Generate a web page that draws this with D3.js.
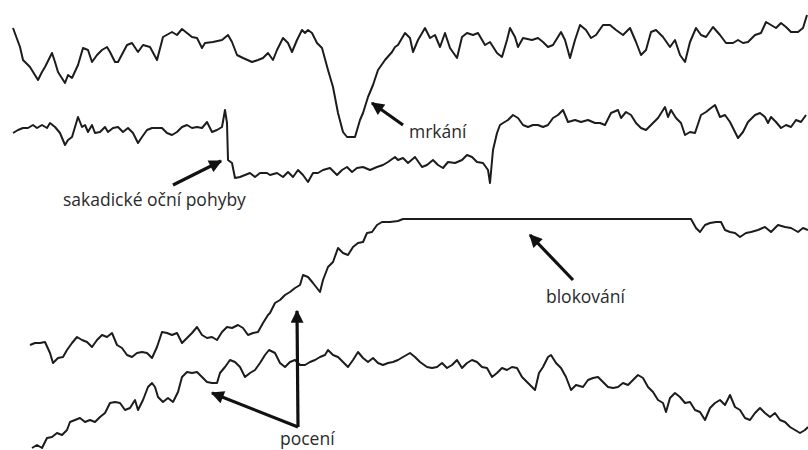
<!DOCTYPE html>
<html>
<head>
<meta charset="utf-8">
<script src="https://cdn.jsdelivr.net/npm/d3@7"></script>
<style>
  html, body { margin: 0; padding: 0; background: #fff; }
  svg { display: block; }
  .trace { fill: none; stroke: #1c1c1c; stroke-width: 2; stroke-linejoin: round; }
  .arrow { stroke: #111; stroke-width: 3.2; fill: none; }
  .label { font-family: "Open Sans", sans-serif; font-size: 17.5px; fill: #2a2a2a; }
</style>
</head>
<body>
<div id="chart"></div>
<script>
// samples: [time, deflection] (deflection grows downward, EEG style)
const blinkChannel = [[13,28],[20,47],[23,60],[30,67],[38,80],[42,72],[45,67],[52,53],[55,62],[58,72],[65,83],[68,75],[72,78],[78,65],[83,48],[88,50],[92,62],[97,55],[102,50],[107,47],[110,52],[115,62],[118,62],[127,45],[132,43],[138,52],[143,45],[150,47],[157,60],[163,37],[172,32],[177,35],[182,29],[187,33],[192,37],[197,38],[202,48],[205,43],[213,42],[222,40],[228,35],[232,42],[237,55],[243,58],[252,62],[258,60],[263,58],[268,53],[273,60],[277,50],[283,38],[288,43],[292,52],[297,40],[302,30],[305,33],[308,30],[312,33],[317,43],[322,48],[328,70],[333,87],[338,113],[343,132],[347,137],[355,137],[360,120],[363,113],[368,97],[373,85],[378,70],[385,60],[392,52],[395,47],[398,45],[405,33],[410,38],[413,52],[418,40],[425,28],[430,38],[435,35],[440,47],[445,33],[450,48],[457,58],[462,37],[467,33],[473,35],[478,33],[485,45],[490,42],[497,53],[502,57],[507,40],[510,28],[515,37],[518,47],[523,38],[532,40],[538,38],[543,42],[548,47],[553,45],[561,32],[565,40],[570,58],[575,40],[580,25],[586,30],[591,38],[596,35],[603,25],[610,25],[616,30],[623,35],[630,28],[636,42],[641,55],[646,50],[651,32],[656,30],[663,37],[670,47],[675,40],[680,55],[685,62],[690,42],[696,28],[701,35],[706,37],[713,27],[720,35],[726,43],[733,43],[738,40],[743,43],[748,42],[755,35],[761,33],[766,22],[771,25],[776,28],[781,23],[786,27],[791,32],[798,32],[803,28],[807,15]];

const saccadeChannel = [[13,133],[18,130],[23,128],[28,128],[33,125],[37,128],[42,125],[47,128],[50,123],[55,127],[60,133],[65,145],[68,140],[72,137],[75,127],[78,117],[82,127],[85,125],[88,132],[92,125],[95,133],[100,132],[105,127],[108,132],[113,128],[118,127],[123,132],[128,128],[133,133],[138,143],[142,137],[147,130],[152,128],[157,128],[162,128],[167,133],[172,135],[177,132],[182,127],[187,125],[192,128],[197,127],[202,128],[207,122],[212,132],[217,130],[222,127],[225,110],[227,123],[228,160],[232,163],[235,178],[240,177],[245,175],[250,173],[255,177],[260,173],[267,173],[270,175],[277,173],[283,177],[288,172],[293,177],[298,170],[303,175],[308,182],[313,173],[318,173],[323,170],[330,168],[337,175],[342,170],[347,167],[352,172],[357,168],[363,167],[370,170],[377,167],[383,165],[388,162],[395,157],[398,160],[403,158],[408,163],[415,157],[422,167],[427,165],[433,160],[438,165],[443,168],[448,162],[455,163],[462,160],[467,155],[472,157],[477,162],[483,163],[488,170],[490,183],[493,150],[497,133],[500,125],[503,123],[508,120],[513,115],[518,118],[523,125],[528,127],[533,125],[538,125],[543,127],[548,125],[553,118],[558,115],[563,110],[568,122],[575,120],[581,122],[588,120],[595,123],[600,123],[605,125],[611,113],[618,110],[621,118],[626,112],[631,115],[636,123],[641,128],[646,130],[651,125],[658,118],[665,107],[668,117],[671,110],[676,118],[681,123],[685,135],[690,132],[695,133],[701,115],[706,112],[711,108],[715,105],[720,117],[725,115],[730,122],[735,132],[738,138],[743,132],[748,122],[755,115],[760,113],[765,117],[768,123],[771,117],[776,122],[781,128],[786,125],[791,127],[796,120],[801,122],[806,115]];

const blockingChannel = [[30,345],[35,343],[40,343],[45,342],[50,353],[53,363],[58,358],[63,357],[67,350],[72,343],[77,337],[82,340],[87,342],[92,347],[97,340],[102,335],[107,337],[112,333],[117,345],[122,348],[127,355],[132,357],[137,353],[142,352],[147,353],[152,358],[157,347],[162,332],[167,333],[172,335],[177,333],[182,343],[187,338],[192,333],[197,327],[202,335],[207,338],[212,337],[217,340],[222,332],[227,327],[232,328],[238,325],[243,328],[248,335],[253,333],[258,332],[263,323],[268,315],[270,313],[275,303],[280,300],[285,295],[290,292],[295,288],[300,285],[303,275],[308,277],[313,283],[320,292],[323,280],[328,267],[333,262],[338,248],[343,253],[348,255],[353,247],[358,243],[363,242],[367,233],[372,232],[377,225],[382,222],[390,222],[398,221],[403,219],[450,219],[500,219],[550,219],[600,219],[650,219],[691,219],[696,228],[700,232],[705,225],[710,223],[716,222],[721,222],[725,230],[730,232],[735,233],[740,237],[746,233],[751,232],[758,230],[765,227],[771,232],[778,225],[785,227],[791,228],[798,232],[803,228],[808,230]];

const sweatChannel = [[32,448],[37,445],[42,448],[47,438],[52,437],[57,433],[62,435],[67,430],[70,422],[75,420],[80,418],[85,422],[90,420],[95,422],[100,417],[105,413],[110,403],[115,402],[120,403],[125,410],[130,408],[135,400],[138,410],[143,400],[148,387],[152,383],[155,387],[158,397],[163,402],[168,398],[173,402],[178,392],[182,377],[187,372],[192,373],[197,372],[202,377],[207,382],[212,383],[217,383],[220,373],[225,367],[230,360],[235,362],[240,367],[245,377],[250,373],[255,370],[260,363],[265,355],[269,350],[275,353],[280,363],[285,367],[290,362],[295,360],[300,365],[305,365],[310,362],[315,360],[320,357],[325,355],[328,350],[333,355],[338,357],[343,362],[348,367],[353,360],[358,352],[363,358],[368,362],[373,358],[378,363],[383,365],[388,363],[393,362],[398,360],[403,357],[410,353],[415,357],[420,362],[427,367],[432,368],[437,367],[442,363],[447,368],[452,365],[457,360],[462,368],[467,363],[472,360],[477,362],[482,367],[487,368],[492,377],[497,373],[502,368],[507,370],[512,367],[517,368],[522,377],[527,382],[532,387],[535,390],[539,373],[543,367],[548,357],[551,355],[556,363],[561,368],[566,377],[571,390],[576,385],[583,387],[588,380],[593,378],[598,377],[603,382],[608,387],[613,388],[618,387],[623,383],[628,385],[633,380],[638,375],[643,378],[648,387],[653,392],[658,400],[663,403],[666,412],[670,398],[675,393],[680,397],[685,403],[690,402],[695,410],[700,412],[705,420],[710,408],[715,403],[720,400],[725,405],[730,395],[735,407],[740,410],[745,418],[750,420],[755,413],[760,408],[765,413],[770,417],[775,413],[780,420],[785,422],[790,427],[795,430],[800,433],[805,430],[808,427]];

const channels = [blinkChannel, saccadeChannel, blockingChannel, sweatChannel];

const labels = ["mrkání", "sakadické oční pohyby", "blokování", "pocení"];

// annotation layout (pixels)
const notes = [
  { text: labels[0], x: 409, y: 138, arrows: [[[403, 125], [372, 103]]] },
  { text: labels[1], x: 63, y: 206, arrows: [[[173, 185], [221, 161]]] },
  { text: labels[2], x: 546, y: 303, arrows: [[[573, 280], [530, 235]]] },
  { text: labels[3], x: 280, y: 445, arrows: [[[298, 427], [297, 311]], [[298, 427], [212, 393]]] }
];

const width = 808, height = 450;

const svg = d3.select("#chart").append("svg")
  .attr("width", width)
  .attr("height", height);

const x = d3.scaleLinear().domain([0, 808]).range([0, width]);
const y = d3.scaleLinear().domain([0, 450]).range([0, height]);

const line = d3.line()
  .x(d => x(d[0]))
  .y(d => y(d[1]))
  .curve(d3.curveLinear);

svg.selectAll(".trace")
  .data(channels)
  .enter().append("path")
  .attr("class", "trace")
  .attr("d", line);

svg.append("defs").append("marker")
  .attr("id", "head")
  .attr("viewBox", "0 0 10 10")
  .attr("refX", 9)
  .attr("refY", 5)
  .attr("markerUnits", "userSpaceOnUse")
  .attr("markerWidth", 15)
  .attr("markerHeight", 13)
  .attr("orient", "auto")
  .append("path")
  .attr("d", "M0,0 L10,5 L0,10 Z")
  .attr("fill", "#111");

const note = svg.selectAll(".note")
  .data(notes)
  .enter().append("g")
  .attr("class", "note");

note.selectAll("line")
  .data(d => d.arrows)
  .enter().append("line")
  .attr("class", "arrow")
  .attr("x1", d => d[0][0])
  .attr("y1", d => d[0][1])
  .attr("x2", d => d[1][0])
  .attr("y2", d => d[1][1])
  .attr("marker-end", "url(#head)");

note.append("text")
  .attr("class", "label")
  .attr("x", d => d.x)
  .attr("y", d => d.y)
  .text(d => d.text);
</script>
</body>
</html>
